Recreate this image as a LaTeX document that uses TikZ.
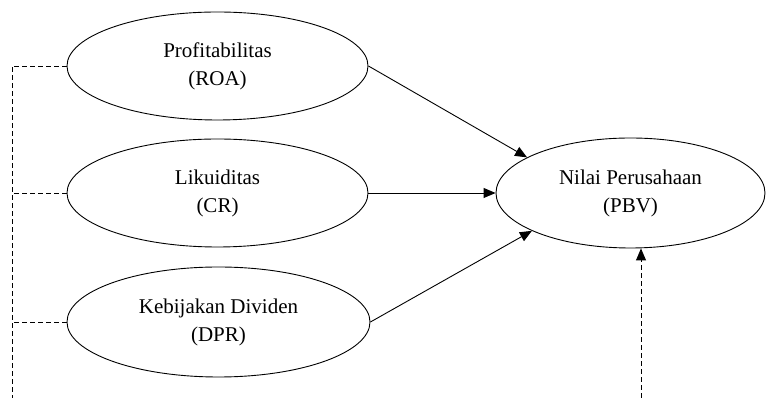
\documentclass[tikz,border=0pt]{standalone}
\usepackage{fontspec}
\setmainfont{Liberation Serif}
\usetikzlibrary{shapes.geometric,arrows.meta}
\begin{document}
\begin{tikzpicture}[x=1pt,y=1pt,
  var/.style={ellipse,draw,line width=0.9pt,inner sep=0pt,align=center,
    font=\fontsize{21}{28}\selectfont},
  arr/.style={line width=0.9pt,-{Triangle[length=12pt,width=10pt]}},
  dsh/.style={line width=0.9pt,dash pattern=on 5pt off 3pt}]
\useasboundingbox (0,0) rectangle (766,398);
\node[var,minimum width=301pt,minimum height=108pt] (roa) at (217.5,332) {Profitabilitas\\(ROA)};
\node[var,minimum width=301pt,minimum height=108pt] (cr) at (217.5,205) {Likuiditas\\(CR)};
\node[var,minimum width=303pt,minimum height=110pt] (dpr) at (218.5,76) {Kebijakan Dividen\\(DPR)};
\node[var,minimum width=269pt,minimum height=110pt] (pbv) at (630.5,205) {Nilai Perusahaan\\(PBV)};
\coordinate (lb) at (12,0);
\coordinate (rb) at (641,0);
\draw[arr] (roa.east) -- (pbv.161);
\draw[arr] (cr.east) -- (pbv.west);
\draw[arr] (dpr.east) -- (pbv.201);
\draw[dsh] (roa.west) -| (lb);
\draw[dsh] (cr.west) -- (cr.west -| lb);
\draw[dsh] (dpr.west) -- (dpr.west -| lb);
\draw[dsh,-{Triangle[length=12pt,width=10pt]}] (rb) -- (rb |- pbv.south);
\end{tikzpicture}
\end{document}
